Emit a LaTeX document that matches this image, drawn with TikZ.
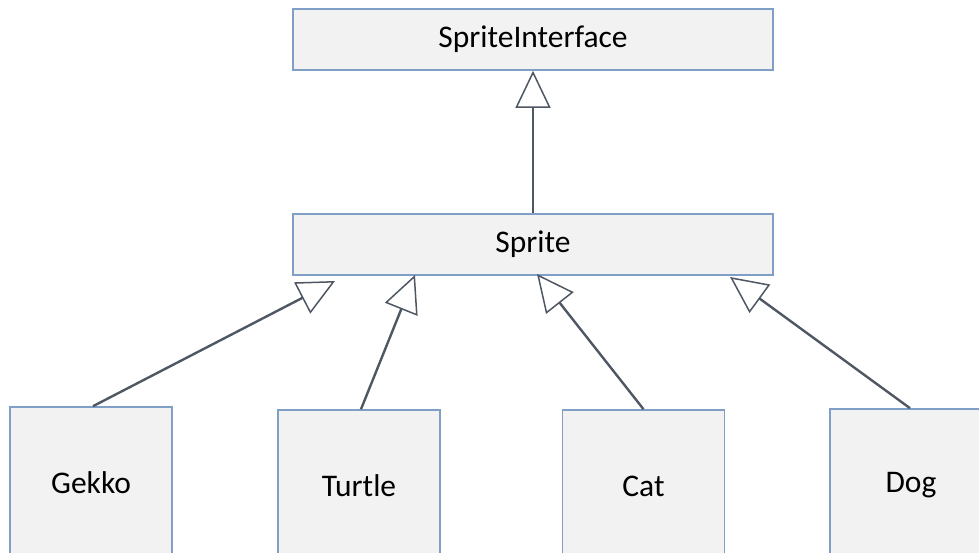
\documentclass[tikz,border=0pt]{standalone}
\usepackage{fontspec}
\setmainfont{Carlito}
\usetikzlibrary{arrows.meta}
\definecolor{boxfill}{HTML}{F2F2F2}
\definecolor{boxline}{HTML}{7F9FC6}
\definecolor{linkline}{HTML}{4F5763}
\begin{document}
\begin{tikzpicture}[x=1pt,y=-1pt,
  classbox/.style={draw=boxline, line width=1.6pt, fill=boxfill, inner sep=0pt,
    font=\fontsize{31.5}{36}\selectfont, text=black},
  wide/.style={classbox, minimum width=480pt, minimum height=61pt},
  tall/.style={classbox, minimum width=162pt, minimum height=152pt},
  inherits/.style={draw=linkline, line width=2.4pt,
    -{Triangle[length=37pt, width=35pt, fill=white, line width=1.5pt]}}]
  \useasboundingbox (0,0) rectangle (979,553);
  \clip (0,0) rectangle (979,553);

  % class boxes
  \node[wide] (iface) at (533,39.5) {SpriteInterface};
  \node[wide] (sprite) at (533,244.5) {Sprite};
  \node[tall] (gekko)  at (91,483)  {Gekko};
  \node[tall] (turtle) at (359,486) {Turtle};
  \node[tall] (cat)    at (643.5,486) {Cat};
  \node[tall] (dog)    at (911,485) {Dog};

  % arrow tips along the bottom of Sprite
  \coordinate (tipG) at (335,281);
  \coordinate (tipT) at (415,275);
  \coordinate (tipC) at (537,274);
  \coordinate (tipD) at (730,277);

  % generalisation links
  \draw[inherits] (sprite.north) -- (iface.south);
  \draw[inherits] ([xshift=2pt]gekko.north) -- (tipG);
  \draw[inherits] ([xshift=2pt]turtle.north) -- (tipT);
  \draw[inherits] (cat.north) -- (tipC);
  \draw[inherits] ([xshift=-1pt]dog.north) -- (tipD);
\end{tikzpicture}
\end{document}
